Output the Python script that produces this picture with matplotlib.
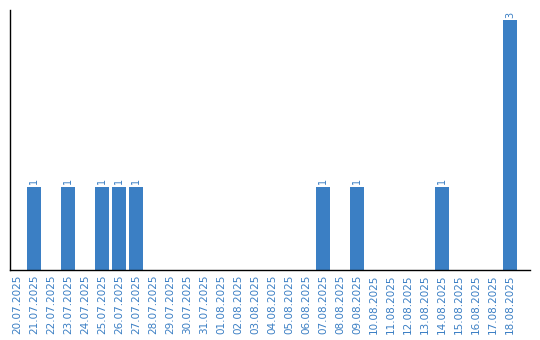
import matplotlib
matplotlib.use("Agg")
import matplotlib.pyplot as plt

dates = ["20.07.2025", "21.07.2025", "22.07.2025", "23.07.2025", "24.07.2025",
         "25.07.2025", "26.07.2025", "27.07.2025", "28.07.2025", "29.07.2025",
         "30.07.2025", "31.07.2025", "01.08.2025", "02.08.2025", "03.08.2025",
         "04.08.2025", "05.08.2025", "06.08.2025", "07.08.2025", "08.08.2025",
         "09.08.2025", "10.08.2025", "11.08.2025", "12.08.2025", "13.08.2025",
         "14.08.2025", "15.08.2025", "16.08.2025", "17.08.2025", "18.08.2025"]
counts = [0, 1, 0, 1, 0, 1, 1, 1, 0, 0,
          0, 0, 0, 0, 0, 0, 0, 0, 1, 0,
          1, 0, 0, 0, 0, 1, 0, 0, 0, 3]

blue = "#3b7fc4"
fig = plt.figure(figsize=(5.4, 3.4), dpi=100)
ax = fig.add_axes([10/540, 70/340, 520/540, 260/340])
x = list(range(len(dates)))
bars = ax.bar(x, counts, width=0.82, color=blue)
for xi, v in zip(x, counts):
    if v > 0:
        ax.text(xi, v + 0.03, str(v), rotation=90, ha="center", va="bottom",
                color=blue, fontsize=7)
ax.set_xlim(-0.41, 30.18)
ax.set_ylim(0, 3.12)
ax.set_xticks(x)
ax.set_xticklabels(dates, rotation=90, color=blue, fontsize=7.5)
ax.tick_params(axis="x", length=0, pad=3.5)
ax.set_yticks([])
for s in ["top", "right"]:
    ax.spines[s].set_visible(False)
for s in ["left", "bottom"]:
    ax.spines[s].set_linewidth(1.0)
    ax.spines[s].set_color("black")
fig.savefig("out.png", dpi=100)
